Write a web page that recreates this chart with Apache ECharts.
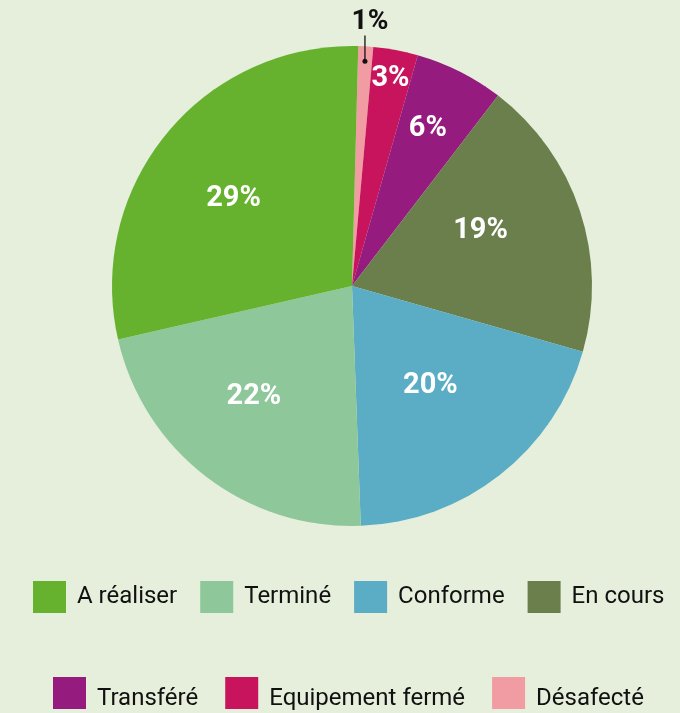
<!DOCTYPE html>
<html>
<head>
<meta charset="utf-8">
<script src="https://cdn.jsdelivr.net/npm/echarts@6/dist/echarts.min.js"></script>
<style>
  html, body { margin: 0; padding: 0; background: #e6efdb; }
  #chart { width: 680px; height: 713px; }
</style>
</head>
<body>
<div id="chart"></div>
<script>
// données (ordre horaire depuis le haut)
var categories = ["Désafecté", "Equipement fermé", "Transféré", "En cours", "Conforme", "Terminé", "A réaliser"];
var values = [1, 3, 6, 19, 20, 22, 29];
var colors = ["#f19ca2", "#c8145c", "#951b7e", "#6a7f4b", "#5aadc5", "#8ec79a", "#66b22f"];
var legendRow1 = ["A réaliser", "Terminé", "Conforme", "En cours"];
var legendRow2 = ["Transféré", "Equipement fermé", "Désafecté"];

// mise en page
var center = [352, 286];
var radius = 240;
var startAngle = 88.5;
var labelRadius = [null, 211, 175, 140, 127, 148, 147]; // distance du label au centre
var labelShift = [0, 0, -1, -5, 0, 4, -3];              // décalage angulaire (degrés)

var chart = echarts.init(document.getElementById("chart"));

var total = values.reduce(function (a, b) { return a + b; }, 0);
// repère du 1% : point dans la part + trait vertical vers le texte
var midDeg = startAngle - (values[0] / total) * 360 / 2;
var cosM = Math.cos(midDeg * Math.PI / 180);
var sinM = Math.sin(midDeg * Math.PI / 180);
var dotX = center[0] + cosM * (radius - 15);
var dotY = center[1] - sinM * (radius - 15);
var edgeY = center[1] - sinM * radius;
var tipY = edgeY - 11;

var seriesData = categories.map(function (name, i) {
  var item = {
    name: name,
    value: values[i],
    itemStyle: { color: colors[i] }
  };
  if (i === 0) {
    item.label = {
      position: "outside",
      color: "#111",
      fontSize: 28
    };
    item.labelLine = { show: false };
  }
  return item;
});

// carré 33x32 ; la 2e ligne a le texte un peu plus bas que le carré
var squareIcon = "rect";
var squareIconLow = "path://M0,0L33,0L33,32L0,32Z M0,44Z";

function legendOpt(data, left, top, gap, icon, h) {
  return {
    data: data,
    top: top,
    left: left,
    width: 680 - left,
    padding: 0,
    icon: icon,
    itemWidth: 33,
    itemHeight: h,
    itemGap: gap,
    selectedMode: false,
    textStyle: {
      fontFamily: "Roboto",
      fontSize: 24,
      color: "#111",
      padding: [0, 0, 0, 6]
    }
  };
}

var option = {
  backgroundColor: "#e6efdb",
  animation: false,
  legend: [
    legendOpt(legendRow1, 33, 581, 23, squareIcon, 32),
    legendOpt(legendRow2, 53, 677, 27, squareIconLow, 44)
  ],
  graphic: [{
    type: "line",
    shape: { x1: dotX, y1: dotY, x2: dotX, y2: tipY },
    style: { stroke: "#111", lineWidth: 1.3 },
    z: 100
  }, {
    type: "circle",
    shape: { cx: dotX, cy: dotY, r: 2.5 },
    style: { fill: "#111" },
    z: 100
  }],
  series: [{
    type: "pie",
    center: center,
    radius: radius,
    startAngle: startAngle,
    clockwise: true,
    avoidLabelOverlap: false,
    data: seriesData,
    label: {
      show: true,
      position: "inside",
      formatter: "{c}%",
      color: "#fff",
      fontFamily: "Roboto",
      fontWeight: "bold",
      fontSize: 29
    },
    labelLayout: function (params) {
      var i = params.dataIndex;
      var r = params.labelRect;
      if (i === 0) {
        return { x: dotX + 5, y: tipY + 1, align: "center", verticalAlign: "bottom" };
      }
      var cx = r.x + r.width / 2;
      var cy = r.y + r.height / 2;
      var a = Math.atan2(cx - center[0], center[1] - cy) + labelShift[i] * Math.PI / 180;
      return {
        x: center[0] + Math.sin(a) * labelRadius[i],
        y: center[1] - Math.cos(a) * labelRadius[i],
        align: "center",
        verticalAlign: "middle"
      };
    },
    emphasis: { disabled: true }
  }]
};

chart.setOption(option);
</script>
</body>
</html>
